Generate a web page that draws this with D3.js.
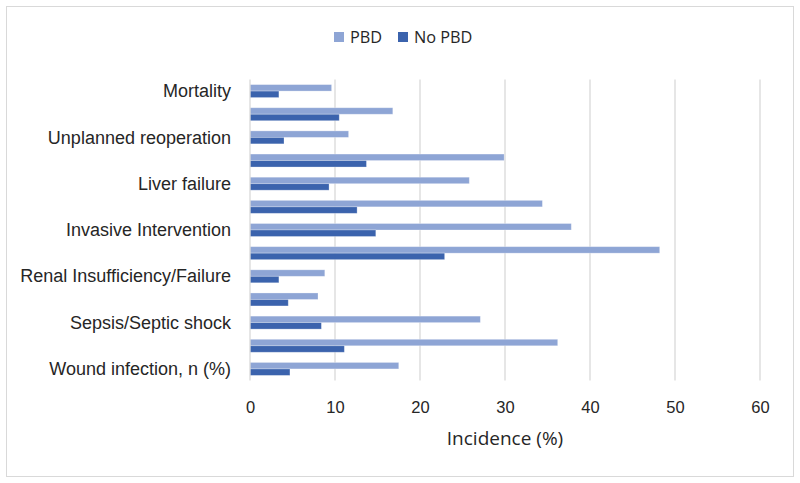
<!DOCTYPE html>
<html>
<head>
<meta charset="utf-8">
<script src="https://cdn.jsdelivr.net/npm/d3@7/dist/d3.min.js"></script>
<style>
  html, body { margin: 0; padding: 0; background: #fff; }
  svg { display: block; font-family: "Open Sans", "Liberation Sans", sans-serif; }
</style>
</head>
<body>
<svg id="chart" width="800" height="483"></svg>
<script>
// Categories top to bottom (only every other label is shown on the axis, as in the original)
const categories = [
  "Mortality", "", "Unplanned reoperation", "", "Liver failure", "",
  "Invasive Intervention", "", "Renal Insufficiency/Failure", "",
  "Sepsis/Septic shock", "", "Wound infection, n (%)"
];
const seriesNames = ["PBD", "No PBD"];
const pbdValues   = [9.6, 16.8, 11.6, 29.9, 25.8, 34.4, 37.8, 48.2, 8.8, 8.0, 27.1, 36.2, 17.5];
const noPbdValues = [3.4, 10.5, 4.0, 13.7, 9.3, 12.6, 14.8, 22.9, 3.4, 4.5, 8.4, 11.1, 4.7];
const xTicks = [0, 10, 20, 30, 40, 50, 60];
const xTitle = "Incidence (%)";
const colors = ["#8EA5D5", "#3B63AD"];

const svg = d3.select("#chart");

// Chart border
svg.append("rect").attr("x", 6.5).attr("y", 6.5).attr("width", 787).attr("height", 470)
  .attr("fill", "#fff").attr("stroke", "#D9D9D9").attr("stroke-width", 1);

const pLeft = 250, pRight = 760, pTop = 79.5, pBottom = 380.5;

const x = d3.scaleLinear().domain([0, 60]).range([pLeft, pRight]);
const y = d3.scaleBand().domain(d3.range(categories.length)).range([pTop, pBottom]).paddingInner(0.44).paddingOuter(0.22);
const ySub = d3.scaleBand().domain([0, 1]).range([0, y.bandwidth()]);

// Gridlines
svg.append("g").selectAll("line").data(xTicks.slice(1)).join("line")
  .attr("x1", d => x(d)).attr("x2", d => x(d))
  .attr("y1", pTop).attr("y2", pBottom)
  .attr("stroke", "#D9D9D9").attr("stroke-width", 1.3);

// Bars
const data = categories.map((c, i) => ({ i, vals: [pbdValues[i], noPbdValues[i]] }));
const groups = svg.append("g").selectAll("g").data(data).join("g")
  .attr("transform", d => `translate(0,${y(d.i)})`);
groups.selectAll("rect").data(d => d.vals.map((v, k) => ({ v, k }))).join("rect")
  .attr("x", x(0))
  .attr("y", d => ySub(d.k))
  .attr("width", d => x(d.v) - x(0))
  .attr("height", ySub.bandwidth())
  .attr("fill", d => colors[d.k])
  .attr("stroke", "#fff").attr("stroke-opacity", 0.35).attr("stroke-width", 0.8);

// Vertical axis line
svg.append("line").attr("x1", x(0)).attr("x2", x(0)).attr("y1", pTop).attr("y2", pBottom)
  .attr("stroke", "#D9D9D9").attr("stroke-width", 1.3);

// Y axis labels
const yAxis = d3.axisLeft(y).tickSize(0).tickPadding(19).tickFormat(i => categories[i]);
const yg = svg.append("g").attr("transform", `translate(${pLeft},0)`).call(yAxis);
yg.select(".domain").remove();
yg.selectAll("text").attr("font-size", 18).attr("fill", "#262626").attr("dy", "0.34em");

// X axis labels
const xAxis = d3.axisBottom(x).tickValues(xTicks).tickSize(0).tickPadding(21);
const xg = svg.append("g").attr("transform", `translate(0,${pBottom})`).call(xAxis);
xg.select(".domain").remove();
xg.selectAll("text").attr("font-size", 16.5).attr("fill", "#262626");

// X axis title
svg.append("text").attr("x", (pLeft + pRight) / 2).attr("y", 445)
  .attr("text-anchor", "middle").attr("font-size", 19).attr("fill", "#262626").text(xTitle);

// Legend
const legendItems = [{ name: seriesNames[0], x: 334 }, { name: seriesNames[1], x: 398 }];
const lg = svg.append("g").selectAll("g").data(legendItems).join("g")
  .attr("transform", (d) => `translate(${d.x},32)`);
lg.append("rect").attr("width", 10).attr("height", 10).attr("fill", (d, i) => colors[i]);
lg.append("text").attr("x", 16).attr("y", 10.5).attr("font-size", 16.3).attr("fill", "#262626").text(d => d.name);
</script>
</body>
</html>
